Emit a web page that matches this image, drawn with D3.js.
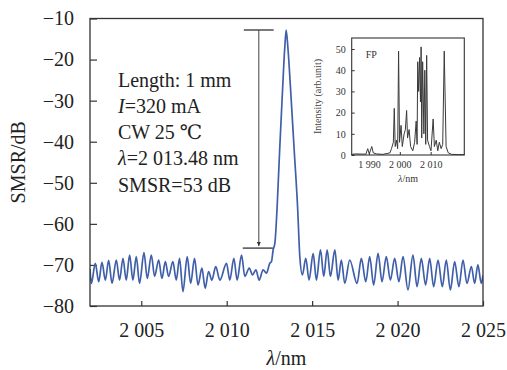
<!DOCTYPE html>
<html>
<head>
<meta charset="utf-8">
<script src="https://cdn.jsdelivr.net/npm/d3@7"></script>
<style>
  html, body { margin: 0; padding: 0; background: #fff; }
  svg { display: block; font-family: "Liberation Serif", "DejaVu Serif", serif; }
</style>
</head>
<body>
<div id="chart"></div>
<script>
// main spectrum (wavelength nm, level dB)
const mainNm = [
  2002.00, 2002.08, 2002.31, 2002.51, 2002.70, 2002.90, 2003.09, 2003.29, 2003.54, 2003.73,
  2003.93, 2004.12, 2004.32, 2004.51, 2004.71, 2004.90, 2005.16, 2005.35, 2005.59, 2005.78,
  2006.02, 2006.21, 2006.41, 2006.60, 2006.85, 2007.05, 2007.24, 2007.44, 2007.69, 2007.89,
  2008.12, 2008.32, 2008.55, 2008.74, 2008.94, 2009.13, 2009.36, 2009.60, 2009.99, 2010.18,
  2010.42, 2010.61, 2010.87, 2011.06, 2011.32, 2011.51, 2011.71, 2011.90, 2012.13, 2012.33,
  2012.52, 2012.62, 2012.72, 2012.82, 2012.95, 2013.10, 2013.25, 2013.40, 2013.48, 2013.58,
  2013.75, 2013.95, 2014.15, 2014.28, 2014.43, 2014.63, 2014.82, 2015.06, 2015.25, 2015.49,
  2015.68, 2015.88, 2016.07, 2016.33, 2016.52, 2016.71, 2016.91, 2017.20, 2017.63, 2017.88,
  2018.14, 2018.37, 2018.60, 2018.86, 2019.09, 2019.34, 2019.58, 2019.83, 2020.08, 2020.32,
  2020.61, 2020.90, 2021.14, 2021.39, 2021.64, 2021.88, 2022.11, 2022.37, 2022.62, 2022.85,
  2023.09, 2023.34, 2023.59, 2023.83, 2024.06, 2024.32, 2024.51, 2024.70, 2024.90, 2025.00
];
const mainDb = [
  -71.0, -74.5, -69.6, -74.1, -69.4, -73.7, -68.9, -74.5, -68.8, -73.7,
  -68.4, -73.7, -67.6, -73.7, -68.0, -74.5, -67.0, -73.3, -67.6, -72.8,
  -68.8, -73.3, -69.2, -72.8, -69.2, -73.7, -68.4, -76.5, -68.0, -74.5,
  -68.4, -74.9, -70.8, -75.7, -71.6, -73.7, -70.4, -73.7, -69.6, -73.7,
  -68.4, -73.7, -67.6, -72.8, -70.8, -72.4, -71.2, -73.7, -71.2, -72.0,
  -69.6, -69.2, -66.3, -64.7, -56.0, -42.0, -29.0, -17.0, -12.8, -17.0,
  -28.0, -42.0, -56.0, -68.0, -72.4, -68.4, -73.7, -67.2, -73.7, -66.3,
  -72.8, -66.3, -72.8, -66.3, -73.7, -68.8, -74.5, -68.8, -74.5, -68.4,
  -74.1, -68.0, -74.9, -67.2, -74.1, -68.0, -73.7, -68.4, -74.1, -68.0,
  -76.1, -67.6, -75.3, -68.4, -74.9, -68.4, -75.3, -68.8, -75.3, -68.8,
  -76.1, -69.2, -75.3, -68.8, -74.5, -70.4, -74.5, -70.0, -74.5, -72.5
];
const xTicks = [2005, 2010, 2015, 2020, 2025];
const xTickLabels = ['2 005', '2 010', '2 015', '2 020', '2 025'];
const yTicks = [-80, -70, -60, -50, -40, -30, -20, -10];
const yTickLabels = ['\u221280', '\u221270', '\u221260', '\u221250', '\u221240', '\u221230', '\u221220', '\u221210'];

// SMSR marker: top / bottom levels and arrow position
const smsrTop = -12.8;
const smsrBottom = -65.9;
const smsrArrowNm = 2011.88;
const smsrTopSpan = [2011.0, 2012.75];
const smsrBottomSpan = [2010.94, 2012.70];

// annotation lines
const noteLines = [
  [{ t: 'Length: 1 mm' }],
  [{ t: 'I', i: true }, { t: '=320 mA' }],
  [{ t: 'CW 25 \u2103' }],
  [{ t: '\u03bb', i: true }, { t: '=2 013.48 nm' }],
  [{ t: 'SMSR=53 dB' }]
];

// inset: FP spectrum
const fpNm = [
  1984.4, 1985.5, 1989.0, 1989.6, 1990.1, 1990.9, 1991.4, 1992.5, 1994.5, 1996.8,
  1997.3, 1997.9, 1998.2, 1998.5, 1998.9, 1999.3, 1999.6, 1999.9, 2000.4, 2000.8,
  2001.4, 2001.8, 2002.2, 2002.5, 2003.0, 2003.5, 2004.2, 2004.8, 2005.3, 2005.6,
  2005.8, 2006.1, 2006.4, 2006.7, 2006.9, 2007.1, 2007.4, 2007.8, 2008.1, 2008.4,
  2008.7, 2009.0, 2009.6, 2010.1, 2010.8, 2011.2, 2011.8, 2012.3, 2012.8, 2013.4,
  2013.9, 2014.4, 2015.0, 2015.7, 2016.8, 2018.9, 2020.9
];
const fpVal = [
  0.3, 0.5, 0.4, 3.0, 0.5, 4.0, 1.0, 0.5, 0.3, 1.0,
  3.0, 6.0, 22.0, 4.0, 7.0, 3.0, 49.0, 6.0, 14.0, 4.0,
  10.0, 12.0, 21.0, 8.0, 12.0, 4.0, 2.0, 6.0, 16.0, 5.0,
  44.0, 30.0, 46.0, 25.0, 51.0, 8.0, 44.0, 10.0, 40.0, 5.0,
  47.0, 7.0, 4.0, 2.0, 17.0, 4.0, 7.0, 2.0, 6.0, 3.0,
  5.0, 49.0, 4.0, 1.0, 0.3, 0.2, 0.2
];
const fpXTicks = [1990, 2000, 2010];
const fpXTickLabels = ['1 990', '2 000', '2 010'];
const fpYTicks = [0, 10, 20, 30, 40, 50];

const W = 507, H = 370;
const margin = { top: 18.5, right: 24, bottom: 64, left: 90 };
const iw = W - margin.left - margin.right;
const ih = H - margin.top - margin.bottom;
const frameColor = '#333';

const svg = d3.select('#chart').append('svg')
  .attr('width', W).attr('height', H);

svg.append('defs').append('clipPath').attr('id', 'plot-clip')
  .append('rect').attr('width', iw).attr('height', ih);

const g = svg.append('g').attr('transform', `translate(${margin.left},${margin.top})`);

const x = d3.scaleLinear().domain([2002, 2025]).range([0, iw]);
const y = d3.scaleLinear().domain([-80, -10]).range([ih, 0]);

// axes (inward ticks, left and bottom only)
const xAxis = g.append('g').attr('transform', `translate(0,${ih})`)
  .call(d3.axisBottom(x).tickValues(xTicks)
    .tickFormat((d, i) => xTickLabels[i])
    .tickSizeInner(-5).tickSizeOuter(0).tickPadding(17));
const yAxis = g.append('g')
  .call(d3.axisLeft(y).tickValues(yTicks)
    .tickFormat((d, i) => yTickLabels[i])
    .tickSizeInner(-7).tickSizeOuter(0).tickPadding(16));
[xAxis, yAxis].forEach(a => {
  a.select('.domain').remove();
  a.selectAll('.tick line').attr('stroke', frameColor).attr('stroke-width', 1.2);
  a.selectAll('.tick text').attr('fill', '#222')
    .style('font-family', '"Liberation Serif", serif').style('font-size', '20px');
});

// spectrum line
const mainData = mainNm.map((d, i) => [d, mainDb[i]]);
g.append('path')
  .datum(mainData)
  .attr('clip-path', 'url(#plot-clip)')
  .attr('fill', 'none')
  .attr('stroke', '#3f5fa9')
  .attr('stroke-width', 1.7)
  .attr('stroke-linejoin', 'round')
  .attr('d', d3.line().x(d => x(d[0])).y(d => y(d[1])).curve(d3.curveMonotoneX));

// frame
g.append('rect')
  .attr('width', iw).attr('height', ih)
  .attr('fill', 'none').attr('stroke', frameColor).attr('stroke-width', 1.3);

// SMSR arrow
const mk = svg.append('defs').append('marker')
  .attr('id', 'arrow').attr('viewBox', '0 0 10 10')
  .attr('refX', 10).attr('refY', 5)
  .attr('markerWidth', 4).attr('markerHeight', 7)
  .attr('markerUnits', 'userSpaceOnUse')
  .attr('orient', 'auto');
mk.append('path').attr('d', 'M0,0 L10,5 L0,10 Z').attr('fill', '#333');

g.append('line')
  .attr('x1', x(smsrTopSpan[0])).attr('x2', x(smsrTopSpan[1]))
  .attr('y1', y(smsrTop)).attr('y2', y(smsrTop))
  .attr('stroke', '#222').attr('stroke-width', 1.2);
g.append('line')
  .attr('x1', x(smsrBottomSpan[0])).attr('x2', x(smsrBottomSpan[1]))
  .attr('y1', y(smsrBottom)).attr('y2', y(smsrBottom))
  .attr('stroke', '#222').attr('stroke-width', 1.2);
g.append('line')
  .attr('x1', x(smsrArrowNm)).attr('x2', x(smsrArrowNm))
  .attr('y1', y(smsrTop)).attr('y2', y(smsrBottom) - 2)
  .attr('stroke', '#444').attr('stroke-width', 1)
  .attr('marker-end', 'url(#arrow)');

// annotation text
const note = g.append('text')
  .attr('fill', '#222')
  .style('font-size', '20px');
noteLines.forEach((line, i) => {
  line.forEach((part, j) => {
    const ts = note.append('tspan').text(part.t);
    if (j === 0) ts.attr('x', 28).attr('y', 68 + i * 26.3);
    if (part.i) ts.style('font-style', 'italic');
  });
});

// axis titles
svg.append('text')
  .attr('x', margin.left + iw / 2).attr('y', 365)
  .attr('text-anchor', 'middle').attr('fill', '#222')
  .style('font-size', '20px')
  .call(t => {
    t.append('tspan').style('font-style', 'italic').text('\u03bb');
    t.append('tspan').text('/nm');
  });
svg.append('text')
  .attr('transform', `translate(25,${margin.top + ih / 2}) rotate(-90)`)
  .attr('text-anchor', 'middle').attr('fill', '#222')
  .style('font-size', '20px')
  .text('SMSR/dB');

// ---- inset ----
const inset = { left: 351.7, top: 38, right: 464.3, bottom: 155 };
const ix = d3.scaleLinear().domain([1984.4, 2020.9]).range([0, inset.right - inset.left]);
const iy = d3.scaleLinear().domain([0, 55.2]).range([inset.bottom - inset.top, 0]);
const ig = svg.append('g').attr('transform', `translate(${inset.left},${inset.top})`);
const iW = inset.right - inset.left, iH = inset.bottom - inset.top;

ig.append('rect').attr('width', iW).attr('height', iH).attr('fill', '#fff');

const ixAxis = ig.append('g').attr('transform', `translate(0,${iH})`)
  .call(d3.axisBottom(ix).tickValues(fpXTicks)
    .tickFormat((d, i) => fpXTickLabels[i])
    .tickSizeInner(-3).tickSizeOuter(0).tickPadding(6));
const iyAxis = ig.append('g')
  .call(d3.axisLeft(iy).tickValues(fpYTicks)
    .tickSizeInner(-3).tickSizeOuter(0).tickPadding(6));
[ixAxis, iyAxis].forEach(a => {
  a.select('.domain').remove();
  a.selectAll('.tick line').attr('stroke', '#333');
  a.selectAll('.tick text').attr('fill', '#333')
    .style('font-family', '"Liberation Serif", serif').style('font-size', '10px');
});

const fpData = fpNm.map((d, i) => [d, fpVal[i]]);
ig.append('path')
  .datum(fpData)
  .attr('fill', 'none')
  .attr('stroke', '#3a3a3a')
  .attr('stroke-width', 1)
  .attr('stroke-linejoin', 'round')
  .attr('d', d3.line().x(d => ix(d[0])).y(d => iy(d[1])));

ig.append('rect').attr('width', iW).attr('height', iH)
  .attr('fill', 'none').attr('stroke', '#333').attr('stroke-width', 1.1);

ig.append('text').attr('x', 14).attr('y', 20)
  .attr('fill', '#333').style('font-size', '10px').text('FP');

svg.append('text')
  .attr('x', inset.left + iW / 2).attr('y', 182)
  .attr('text-anchor', 'middle').attr('fill', '#333')
  .style('font-size', '10px')
  .call(t => {
    t.append('tspan').style('font-style', 'italic').text('\u03bb');
    t.append('tspan').text('/nm');
  });
svg.append('text')
  .attr('transform', `translate(321,${inset.top + iH / 2}) rotate(-90)`)
  .attr('text-anchor', 'middle').attr('fill', '#444')
  .style('font-size', '10px')
  .text('Intensity (arb.unit)');
</script>
</body>
</html>
